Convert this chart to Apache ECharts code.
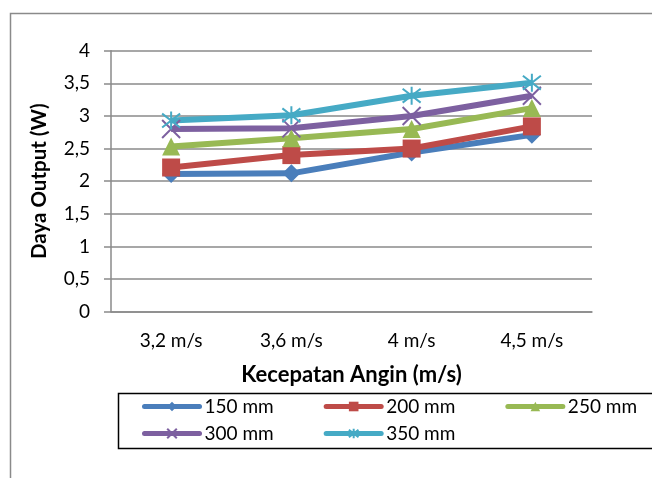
<!DOCTYPE html>
<html>
<head>
<meta charset="utf-8">
<script src="https://cdn.jsdelivr.net/npm/echarts@6/dist/echarts.min.js"></script>
<style>
  html, body { margin: 0; padding: 0; background: #fff; }
  #chart { width: 652px; height: 478px; }
</style>
</head>
<body>
<div id="chart"></div>
<script>
var categories = ["3,2 m/s", "3,6 m/s", "4 m/s", "4,5 m/s"];
var seriesNames = ["150 mm", "200 mm", "250 mm", "300 mm", "350 mm"];
var d150 = [2.11, 2.12, 2.44, 2.71];
var d200 = [2.21, 2.40, 2.50, 2.84];
var d250 = [2.53, 2.66, 2.80, 3.12];
var d300 = [2.80, 2.81, 3.00, 3.31];
var d350 = [2.93, 3.01, 3.31, 3.51];

var colors = ["#4A7EBB", "#BE4B48", "#98B954", "#7D60A0", "#46AAC5"];
var crossPath = "path://M0 0L10 10M10 0L0 10";
var starPath = "path://M0 0L10 10M10 0L0 10M5 -1.5L5 11.5";
var font = "Lato, 'Open Sans', sans-serif";

var chart = echarts.init(document.getElementById("chart"));

function makeSeries(name, data, color, symbol, stroke) {
  return {
    name: name,
    type: "line",
    data: data,
    symbol: symbol,
    symbolSize: 18,
    lineStyle: { width: 6, color: color },
    itemStyle: stroke
      ? { color: "rgba(0,0,0,0)", borderColor: color, borderWidth: 2 }
      : { color: color },
    emphasis: { disabled: true },
  };
}

var legendCommon = {
  left: 142,
  width: 600,
  padding: 0,
  itemWidth: 55,
  itemHeight: 12,
  itemGap: 50,
  lineStyle: { width: 5, cap: "round" },
  textStyle: { fontFamily: font, fontSize: 19, color: "#000" },
};

chart.setOption({
  animation: false,
  graphic: [
    {
      type: "rect",
      shape: { x: 10.5, y: 13.5, width: 700, height: 500 },
      style: { fill: "none", stroke: "#8a8a8a", lineWidth: 1.5 },
    },
    {
      type: "rect",
      shape: { x: 118.5, y: 393.5, width: 600, height: 55 },
      style: { fill: "none", stroke: "#000", lineWidth: 1.5 },
    },
  ],
  legend: [
    Object.assign({}, legendCommon, { top: 397, data: seriesNames.slice(0, 3) }),
    Object.assign({}, legendCommon, { top: 424, data: seriesNames.slice(3) }),
  ],
  grid: { left: 111, right: 60, top: 50.7, bottom: 166.3 },
  xAxis: {
    type: "category",
    data: categories,
    boundaryGap: true,
    name: "Kecepatan Angin (m/s)",
    nameLocation: "middle",
    nameGap: 52,
    nameTextStyle: { fontFamily: font, fontSize: 22, fontWeight: "bold", color: "#000" },
    axisLine: { lineStyle: { color: "#8a8a8a", width: 1.5 } },
    axisTick: { show: false },
    axisLabel: { fontFamily: font, fontSize: 19, color: "#000", margin: 20 },
  },
  yAxis: {
    type: "value",
    min: 0,
    max: 4,
    interval: 0.5,
    name: "Daya Output (W)",
    nameLocation: "middle",
    nameGap: 61,
    nameTextStyle: { fontFamily: font, fontSize: 20.5, fontWeight: "bold", color: "#000" },
    axisLine: { show: true, lineStyle: { color: "#8a8a8a", width: 1.5 } },
    axisTick: { show: true, length: 7, lineStyle: { color: "#8a8a8a", width: 1.5 } },
    splitLine: { lineStyle: { color: "#8a8a8a", width: 1.5 } },
    axisLabel: {
      fontFamily: font,
      fontSize: 19,
      color: "#000",
      margin: 21,
      formatter: function (v) { return String(v).replace(".", ","); },
    },
  },
  series: [
    makeSeries(seriesNames[0], d150, colors[0], "diamond", false),
    makeSeries(seriesNames[1], d200, colors[1], "rect", false),
    makeSeries(seriesNames[2], d250, colors[2], "triangle", false),
    makeSeries(seriesNames[3], d300, colors[3], crossPath, true),
    makeSeries(seriesNames[4], d350, colors[4], starPath, true),
  ],
});
</script>
</body>
</html>
